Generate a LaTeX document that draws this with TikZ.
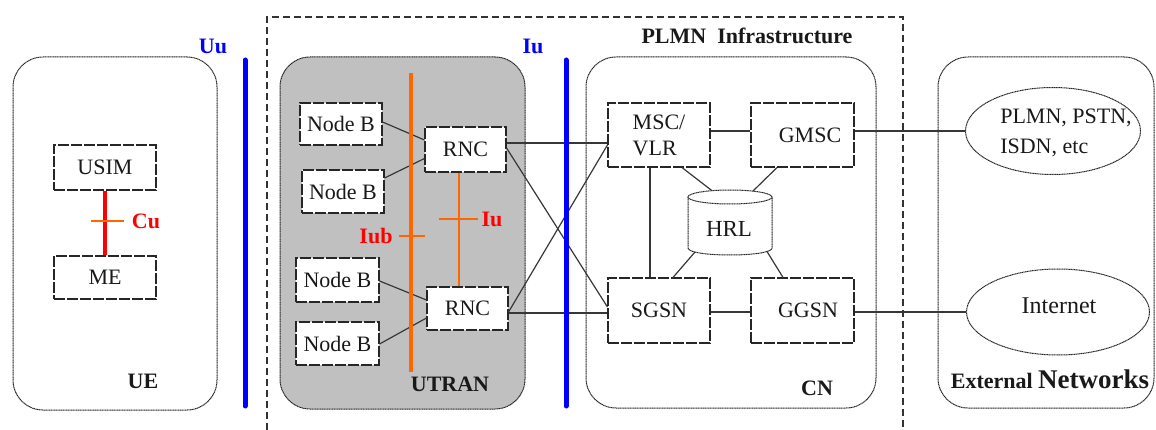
\documentclass[tikz,border=0pt]{standalone}
\usepackage{fontspec}
\setmainfont{Liberation Serif}
\usetikzlibrary{shapes.geometric,calc}
\definecolor{ifblue}{RGB}{0,0,255}
\definecolor{ifred}{RGB}{255,0,0}
\definecolor{iforange}{RGB}{255,102,0}
\definecolor{utrangray}{RGB}{192,192,192}
\definecolor{wirecol}{RGB}{55,55,55}
\definecolor{inkcol}{RGB}{25,25,25}
\begin{document}
\begin{tikzpicture}[x=1pt,y=-1pt,
  every node/.style={font=\fontsize{22}{26}\selectfont, text=inkcol, inner sep=0pt},
  zonebox/.style={draw=black!85, line width=1pt, dash pattern=on 1.2pt off 0.5pt, rounded corners=30pt},
  unitbox/.style={draw=black!85, fill=white, line width=1.1pt, dash pattern=on 11pt off 2pt},
  extnet/.style={ellipse, draw=black!85, line width=1pt, dash pattern=on 1.2pt off 0.5pt},
  dbline/.style={draw=black!85, line width=1pt, dash pattern=on 1.2pt off 0.5pt, fill=white},
  wire/.style={draw=wirecol, line width=1.2pt},
  plmnframe/.style={draw=black!80, line width=2pt, dash pattern=on 7pt off 4pt},
  radiobar/.style={draw=ifblue, line width=5pt, line cap=round},
  iubbar/.style={draw=iforange, line width=4pt},
  iurbar/.style={draw=iforange, line width=1.6pt},
  cubar/.style={draw=ifred, line width=4pt},
  ifmark/.style={draw=iforange, line width=1.5pt},
  lbl/.style={font=\fontsize{22}{26}\selectfont\bfseries},
]
\useasboundingbox (0,0) rectangle (1156,430);

% domains
\node[zonebox, minimum width=204pt, minimum height=353pt] (ue) at (115,233.5) {};
\node[zonebox, fill=utrangray, minimum width=245pt, minimum height=352pt] (utran) at (402.5,233) {};
\node[zonebox, minimum width=290pt, minimum height=351pt] (cn) at (731,232.5) {};
\node[zonebox, minimum width=216pt, minimum height=351pt] (extdom) at (1046,232.5) {};

% PLMN infrastructure frame (open at the bottom)
\coordinate (plmn-bl) at (267,430);
\coordinate (plmn-tl) at (267,17);
\coordinate (plmn-tr) at (903,17);
\coordinate (plmn-br) at (903,430);
\draw[plmnframe] (plmn-bl) -- (plmn-tl) -- (plmn-tr) -- (plmn-br);

% UE
\node[unitbox, minimum width=102pt, minimum height=45pt] (usim) at (105,167.5) {USIM};
\node[unitbox, minimum width=102pt, minimum height=43pt] (me) at (105,277.5) {ME};

% UTRAN
\node[unitbox, minimum width=82pt, minimum height=42pt] (nb1) at (341,124) {Node B};
\node[unitbox, minimum width=82pt, minimum height=43pt] (nb2) at (343,191.5) {Node B};
\node[unitbox, minimum width=83pt, minimum height=44pt] (nb3) at (337.5,280) {Node B};
\node[unitbox, minimum width=83pt, minimum height=43pt] (nb4) at (337.5,343.5) {Node B};
\node[unitbox, minimum width=81pt, minimum height=45pt] (rnc1) at (465.5,149.5) {RNC};
\node[unitbox, minimum width=81pt, minimum height=43pt] (rnc2) at (467.5,308.5) {RNC};

% core network
\node[unitbox, minimum width=102pt, minimum height=64pt, align=left] (msc) at (659,135) {MSC/\\VLR};
\node[unitbox, minimum width=103pt, minimum height=64pt] (gmsc) at (802.5,135) {\hspace*{15pt}GMSC};
\node[unitbox, minimum width=102pt, minimum height=65pt] (sgsn) at (659,310.5) {SGSN};
\node[unitbox, minimum width=103pt, minimum height=65pt] (ggsn) at (802.5,310.5) {\hspace*{11pt}GGSN};

% HRL database
\draw[dbline] (688,197) -- (688,248) .. controls (688,257.33) and (772,257.33) .. (772,248) -- (772,197);
\draw[dbline] (730,197) ellipse [x radius=42pt, y radius=7pt];
\node[font=\fontsize{23}{26}\selectfont] (hrl) at (729,229) {HRL};
\coordinate (hrl-tl) at (712,190.7);
\coordinate (hrl-tr) at (753,191);
\coordinate (hrl-bl) at (695,252);
\coordinate (hrl-br) at (767,251.5);

% external networks
\node[extnet, minimum width=175pt, minimum height=87pt] (ext1) at (1053,131) {};
\node[font=\fontsize{22}{30}\selectfont, align=left] (ext1-text) at (1066,133) {PLMN, PSTN,\\ISDN, etc};
\node[extnet, minimum width=183pt, minimum height=86pt] (inet) at (1058,312) {};
\node[font=\fontsize{24}{28}\selectfont] (inet-text) at (1059,306) {Internet};

% Node B -- RNC links
\draw[wire] ([yshift=2pt]nb1.east) -- ([yshift=9.5pt]rnc1.west);
\draw[wire] ([yshift=13.5pt]nb2.east) -- ([yshift=-9pt]rnc1.west);
\draw[wire] ([yshift=-1pt]nb3.east) -- ([yshift=8.5pt]rnc2.west);
\draw[wire] ([yshift=-0.5pt]nb4.east) -- ([yshift=-9.5pt]rnc2.west);

% RNC -- core links
\coordinate (r1a) at ([yshift=6.5pt]rnc1.east);
\coordinate (r2a) at ([yshift=-4.5pt]rnc2.east);
\draw[wire] (r1a) -- (r1a -| msc.west);
\draw[wire] (r2a) -- (r2a -| sgsn.west);
\draw[wire] ([yshift=1.5pt]rnc1.east) -- ([yshift=3.5pt]sgsn.west);
\draw[wire] ([yshift=-3.5pt]rnc2.east) -- ([yshift=-10pt]msc.west);

% core internal links
\coordinate (m1) at ([yshift=4pt]msc.east);
\coordinate (s1) at ([yshift=-1.5pt]sgsn.east);
\coordinate (m2) at ([xshift=-9pt]msc.south);
\draw[wire] (m1) -- (m1 -| gmsc.west);
\draw[wire] (s1) -- (s1 -| ggsn.west);
\draw[wire] (m2) -- (m2 |- sgsn.north);
\draw[wire] ([xshift=23pt]msc.south) -- (hrl-tl);
\draw[wire] ([xshift=-25.5pt]gmsc.south) -- (hrl-tr);
\draw[wire] ([xshift=14pt]sgsn.north) -- (hrl-bl);
\draw[wire] ([xshift=-19.5pt]ggsn.north) -- (hrl-br);

% gateways to external networks
\coordinate (g1) at ([yshift=4pt]gmsc.east);
\draw[wire] (g1) -- (g1 -| ext1.west);
\draw[wire] ([yshift=-1.5pt]ggsn.east) -- (inet.west);

% interfaces
\draw[radiobar] (245,60) -- (245,406);
\draw[radiobar] (566,60) -- (566,406);
\draw[iubbar] (411,73) -- (411,372);
\coordinate (iur-top) at ([xshift=-6.5pt]rnc1.south);
\draw[iurbar] (iur-top) -- (iur-top |- rnc2.north);
\draw[cubar] (usim.south) -- (me.north);
\draw[ifmark] (91,221) -- (124,221);
\draw[ifmark] (399,236) -- (425,236);
\draw[ifmark] (439,219) -- (478,219);

% interface labels
\node[lbl, text=ifblue] (lbl-uu) at (213,46) {Uu};
\node[lbl, text=ifblue] (lbl-iu) at (533,46) {Iu};
\node[lbl, text=ifred] (lbl-cu) at (146,221) {Cu};
\node[lbl, text=ifred] (lbl-iub) at (376,236) {Iub};
\node[lbl, text=ifred] (lbl-iur) at (492,219) {Iu};

% domain labels
\node[lbl] (lbl-ue) at (143,381) {UE};
\node[lbl] (lbl-utran) at (450,384) {UTRAN};
\node[lbl] (lbl-cn) at (817,388) {CN};
\node[lbl] (lbl-plmn) at (747,36) {PLMN\ \ Infrastructure};
\node[lbl, anchor=base] (lbl-ext) at (1050,388) {External {\fontsize{27}{30}\selectfont Networks}};
\end{tikzpicture}
\end{document}
